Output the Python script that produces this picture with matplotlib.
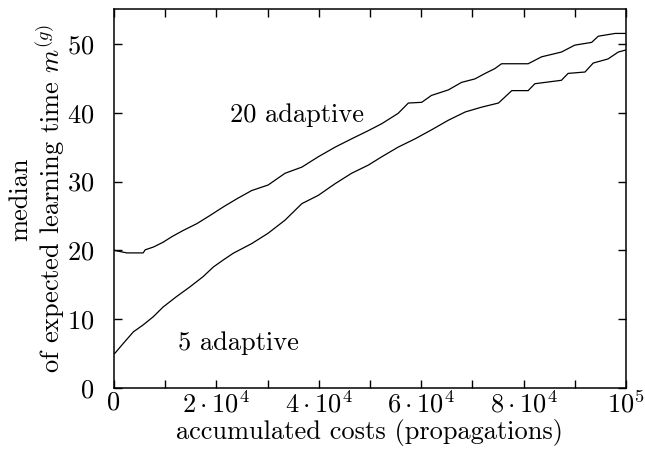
import matplotlib
matplotlib.use("Agg")
import matplotlib.pyplot as plt
import numpy as np

plt.rcParams['font.family'] = 'serif'
plt.rcParams['font.serif'] = ['cmr10', 'DejaVu Serif']
plt.rcParams['mathtext.fontset'] = 'cm'
plt.rcParams['axes.formatter.use_mathtext'] = True

# median expected learning time
cost_20 = [0, 200, 2500, 5700, 6100, 7700, 9600, 11300, 13500, 16200, 18800, 21300,
           24000, 26900, 30100, 33400, 36700, 39900, 43200, 46400, 49700, 52300,
           55500, 57500, 60100, 62000, 65300, 67900, 70500, 72500, 74400, 75700,
           80900, 83500, 87400, 90000, 93300, 94600, 97900, 100000]
m_20 = [20.1, 20.0, 19.65, 19.65, 20.1, 20.5, 21.2, 22.0, 22.9, 23.9, 25.1, 26.3,
        27.5, 28.7, 29.5, 31.2, 32.1, 33.6, 35.0, 36.2, 37.4, 38.4,
        39.9, 41.4, 41.5, 42.5, 43.3, 44.4, 44.9, 45.7, 46.4, 47.1,
        47.1, 48.1, 48.8, 49.8, 50.2, 51.1, 51.5, 51.5]

cost_5 = [0, 200, 1800, 3800, 5700, 7700, 9600, 12200, 14800, 17400, 19400, 21300,
          23300, 26900, 30100, 33400, 36700, 39900, 43200, 46400, 49700, 52300,
          55500, 58800, 62000, 65300, 68600, 71800, 75100, 77700, 80900, 82200,
          87400, 88700, 92000, 93600, 96500, 98500, 100000]
m_5 = [5.0, 5.1, 6.5, 8.2, 9.2, 10.4, 11.8, 13.3, 14.7, 16.2, 17.6, 18.6,
       19.6, 21.0, 22.5, 24.4, 26.8, 28.0, 29.7, 31.2, 32.4, 33.6,
       35.0, 36.2, 37.5, 38.9, 40.1, 40.8, 41.4, 43.2, 43.2, 44.2,
       44.7, 45.7, 45.9, 47.2, 47.8, 48.8, 49.1]

xticks = np.arange(0, 100001, 10000)
xticklabels = ['0', '', r'$2\cdot10^4$', '', r'$4\cdot10^4$', '',
               r'$6\cdot10^4$', '', r'$8\cdot10^4$', '', r'$10^5$']
yticks = [0, 10, 20, 30, 40, 50]

fs = 19

fig = plt.figure(figsize=(6.45, 4.54), dpi=100)
ax = fig.add_axes([0.1767, 0.1447, 0.7938, 0.8348])

ax.plot(cost_20, m_20, color='black', lw=0.9)
ax.plot(cost_5, m_5, color='black', lw=0.9)

ax.text(35700, 39.6, '20 adaptive', ha='center', va='center', fontsize=fs)
ax.text(24400, 6.6, '5 adaptive', ha='center', va='center', fontsize=fs)

ax.set_xlim(0, 100000)
ax.set_ylim(0, 55)
ax.set_xticks(xticks)
ax.set_xticklabels(xticklabels)
ax.set_yticks(yticks)
ax.tick_params(direction='in', length=6, width=1, top=True, right=True,
               labelsize=fs)
ax.tick_params(axis='x', pad=2)
ax.tick_params(axis='y', pad=14)
for s in ax.spines.values():
    s.set_linewidth(1.1)

ax.set_xlabel('accumulated costs (propagations)', fontsize=fs, labelpad=1)
ax.set_ylabel('median\nof expected learning time $m^{(g)}$', fontsize=fs,
              linespacing=1.08, labelpad=0)

fig.savefig('out.png', dpi=100)
